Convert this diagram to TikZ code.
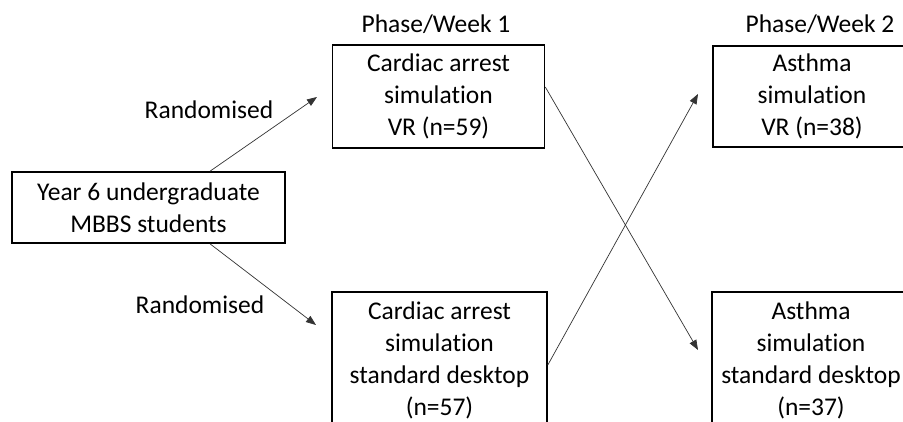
\documentclass[tikz,border=0pt]{standalone}
\usepackage{fontspec}
\setmainfont{Carlito}[Ligatures=NoCommon]
\usetikzlibrary{arrows.meta}
\begin{document}
\begin{tikzpicture}[x=1pt,y=-1pt,
  every node/.style={font=\fontsize{25.5}{32}\selectfont, align=center, inner sep=0pt},
  tbox/.style={draw=black, line width=1.6pt},
  flow/.style={draw=black!80, line width=0.7pt, -{Triangle[length=10pt,width=7.5pt]}}]
  \clip (0,0) rectangle (903,421);
  \fill[white] (0,0) rectangle (903,421);

  % column headings
  \node (ph1) at (436,24) {Phase/Week 1};
  \node (ph2) at (820,24) {Phase/Week 2};

  % participants
  \node[tbox, minimum width=273pt, minimum height=71pt] (y6) at (148.5,207.5)
    {Year 6 undergraduate\\MBBS students};

  % week 1 arms
  \node[tbox, minimum width=212pt, minimum height=103pt] (tl) at (438.5,96.5)
    {Cardiac arrest\\simulation\\VR (n=59)};
  \node[tbox, minimum width=215pt, minimum height=136pt] (bl) at (439.5,360)
    {Cardiac arrest\\simulation\\standard desktop\\(n=57)};

  % week 2 arms
  \node[tbox, minimum width=198pt, minimum height=101pt] (tr) at (812,96.5)
    {Asthma\\simulation\\VR (n=38)};
  \node[tbox, minimum width=198pt, minimum height=136pt] (br) at (811,360)
    {Asthma\\simulation\\standard desktop\\(n=37)};

  % randomisation labels
  \node (rnd1) at (209,110) {Randomised};
  \node (rnd2) at (200,305) {Randomised};

  % arrow tips, short of the boxes
  \coordinate (tipTL) at (317,97);
  \coordinate (tipBL) at (316,325);
  \coordinate (tipTR) at (698,94);
  \coordinate (tipBR) at (698,350);

  % connectors
  \draw[flow] ([xshift=61.5pt]y6.north) -- (tipTL);
  \draw[flow] ([xshift=61.5pt]y6.south) -- (tipBL);
  \draw[flow] ([yshift=9.5pt]tl.east) -- (tipBR);
  \draw[flow] ([yshift=-5pt]bl.east) -- (tipTR);
\end{tikzpicture}
\end{document}
